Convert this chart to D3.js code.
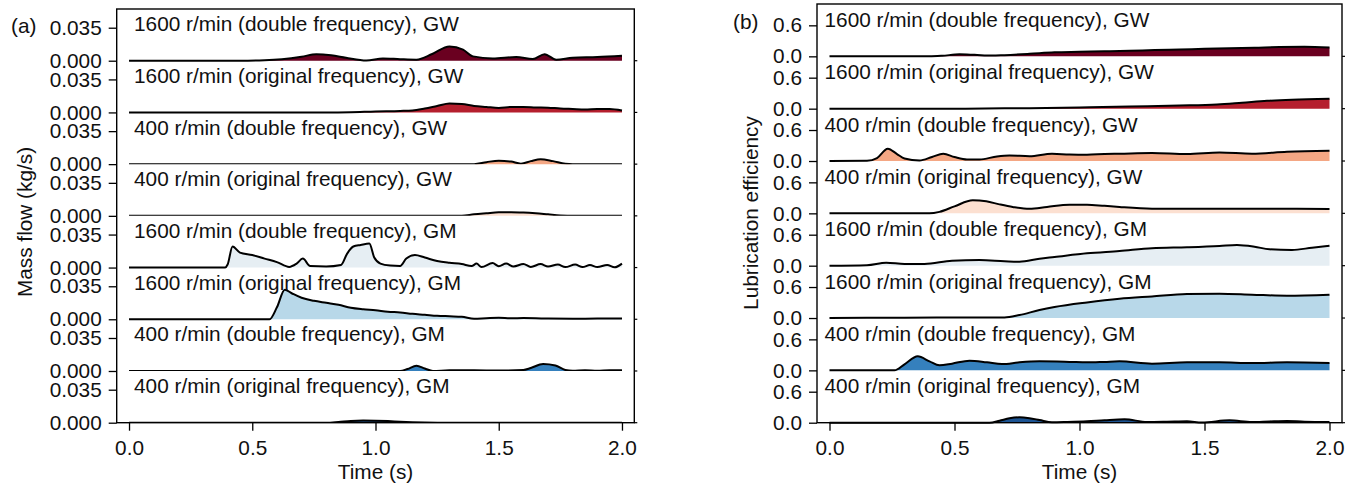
<!DOCTYPE html>
<html>
<head>
<meta charset="utf-8">
<script src="https://cdn.jsdelivr.net/npm/d3@7"></script>
<style>
  body { margin: 0; background: #fff; }
  svg text { font-family: "Liberation Sans", Arial, Helvetica, sans-serif; fill: #111; }
</style>
</head>
<body>
<svg id="chart" width="1346" height="483"></svg>
<script>
// ---- Row labels (top to bottom) and fill colours ----
const rowLabels = [
  "1600 r/min (double frequency), GW",
  "1600 r/min (original frequency), GW",
  "400 r/min (double frequency), GW",
  "400 r/min (original frequency), GW",
  "1600 r/min (double frequency), GM",
  "1600 r/min (original frequency), GM",
  "400 r/min (double frequency), GM",
  "400 r/min (original frequency), GM"
];
const rowColors = ["#6a0020", "#b51f2e", "#f4a784", "#fce0d1", "#e6eef3", "#b8d8e9", "#3580bd", "#1c5493"];

const timeTicks = [0, 0.5, 1.0, 1.5, 2.0];
const massFlowTicks = [0, 0.035];
const lubricationTicks = [0, 0.6];

// ---- (a) Mass flow, kg/s : [time (s), value] ----
const flow1600DoubleGW = [[0,0],[0.45,0],[0.55,0.0005],[0.62,0.0016],[0.7,0.0042],[0.76,0.0069],[0.82,0.0058],[0.88,0.0032],[0.963,0.0003],[1.03,0.0024],[1.1,0.0016],[1.166,0.0011],[1.23,0.0071],[1.3,0.0152],[1.355,0.0117],[1.395,0.0046],[1.476,0.0024],[1.571,0.0039],[1.638,0.0018],[1.686,0.0069],[1.733,0.0011],[1.8,0.0032],[1.9,0.0039],[2.0,0.0053]];
const flow1600OriginalGW = [[0,0],[0.8,0],[0.9,0.0003],[1.0,0.0011],[1.1,0.0016],[1.15,0.0021],[1.2,0.0042],[1.25,0.0069],[1.3,0.0095],[1.35,0.009],[1.4,0.0069],[1.45,0.0058],[1.5,0.0048],[1.55,0.0058],[1.6,0.0058],[1.65,0.0053],[1.7,0.005],[1.75,0.0042],[1.8,0.0037],[1.85,0.0032],[1.9,0.0037],[1.95,0.0037],[2.0,0.0021]];
const flow400DoubleGW = [[0,0],[1.4,0],[1.45,0.0021],[1.5,0.0037],[1.55,0.0027],[1.59,0.0005],[1.63,0.0032],[1.67,0.0053],[1.72,0.0032],[1.77,0.0005],[1.8,0],[2.0,0]];
const flow400OriginalGW = [[0,0],[1.35,0],[1.4,0.0016],[1.45,0.0027],[1.5,0.0037],[1.55,0.0039],[1.6,0.0035],[1.65,0.0027],[1.7,0.0016],[1.75,0.0005],[1.8,0],[2.0,0]];
const flow1600DoubleGM = [[0,0],[0.39,0],[0.4,0.0032],[0.42,0.0223],[0.45,0.0159],[0.5,0.0133],[0.55,0.0095],[0.6,0.0058],[0.65,0.0007],[0.68,0.0042],[0.705,0.0095],[0.735,0.0016],[0.8,0.0011],[0.86,0.0027],[0.885,0.0148],[0.91,0.0223],[0.94,0.0239],[0.975,0.0254],[0.995,0.0106],[1.02,0.0042],[1.06,0.0021],[1.1,0.0016],[1.125,0.0095],[1.16,0.0133],[1.2,0.0106],[1.25,0.0069],[1.3,0.005],[1.35,0.0037],[1.39,0.0016],[1.41,0.0042],[1.43,0.0005],[1.475,0.0048],[1.5,0.0014],[1.53,0.0042],[1.56,0.0011],[1.6,0.0037],[1.63,0.0007],[1.67,0.0037],[1.7,0.0011],[1.74,0.0032],[1.77,0.0005],[1.81,0.0032],[1.84,0.0005],[1.87,0.0027],[1.9,0.0005],[1.94,0.0027],[1.97,0.0003],[2.0,0.0042]];
const flow1600OriginalGM = [[0,0],[0.57,0],[0.6,0.0127],[0.632,0.0313],[0.66,0.0276],[0.7,0.0228],[0.75,0.0196],[0.8,0.0175],[0.85,0.0154],[0.9,0.0122],[0.95,0.0106],[1.0,0.0095],[1.05,0.008],[1.1,0.0072],[1.15,0.0058],[1.2,0.0048],[1.25,0.0037],[1.3,0.0032],[1.35,0.0027],[1.4,0.0005],[1.45,0.0011],[1.5,0.0016],[1.55,0.0011],[1.6,0.0013],[1.65,0.0011],[1.7,0.0007],[1.8,0.0005],[1.9,0.0007],[2.0,0.0007]];
const flow400DoubleGM = [[0,0],[1.1,0],[1.13,0.0021],[1.166,0.0056],[1.2,0.0027],[1.233,0],[1.3,0.0007],[1.4,0.0007],[1.5,0.0005],[1.6,0.0011],[1.63,0.0032],[1.68,0.0074],[1.73,0.0058],[1.77,0.0011],[1.8,0.0003],[1.85,0.0008],[1.9,0.0003],[1.95,0.0008],[2.0,0.0008]];
const flow400OriginalGM = [[0,0],[0.8,0],[0.85,0.0008],[0.9,0.0019],[0.95,0.0023],[1.0,0.0021],[1.05,0.0017],[1.1,0.0011],[1.2,0.0003],[1.3,0],[2.0,0]];

// ---- (b) Lubrication efficiency : [time (s), value] ----
const lub1600DoubleGW = [[0,0],[0.4,0],[0.45,0.010],[0.52,0.039],[0.58,0.029],[0.65,0.014],[0.7,0.023],[0.8,0.048],[0.9,0.077],[1.0,0.087],[1.1,0.097],[1.2,0.106],[1.3,0.122],[1.4,0.132],[1.5,0.145],[1.6,0.155],[1.7,0.166],[1.8,0.180],[1.9,0.184],[2.0,0.170]];
const lub1600OriginalGW = [[0,0],[0.5,0],[0.7,0.006],[0.8,0.010],[1.0,0.025],[1.2,0.043],[1.4,0.062],[1.55,0.083],[1.65,0.116],[1.75,0.151],[1.85,0.174],[2.0,0.194]];
const lub400DoubleGW = [[0,0],[0.15,0.006],[0.19,0.058],[0.233,0.238],[0.27,0.135],[0.3,0.048],[0.36,0.010],[0.41,0.077],[0.455,0.141],[0.5,0.077],[0.55,0.029],[0.6,0.029],[0.67,0.089],[0.72,0.108],[0.8,0.093],[0.89,0.141],[0.96,0.126],[1.03,0.122],[1.1,0.135],[1.16,0.141],[1.29,0.155],[1.43,0.135],[1.56,0.166],[1.69,0.141],[1.83,0.180],[2.0,0.199]];
const lub400OriginalGW = [[0,0],[0.4,0],[0.44,0.029],[0.5,0.135],[0.573,0.252],[0.627,0.232],[0.68,0.174],[0.733,0.124],[0.8,0.087],[0.87,0.124],[0.96,0.168],[1.03,0.168],[1.1,0.145],[1.16,0.124],[1.29,0.091],[1.4,0.087],[1.56,0.091],[1.7,0.087],[1.83,0.091],[2.0,0.085]];
const lub1600DoubleGM = [[0,0],[0.15,0.010],[0.227,0.058],[0.3,0.033],[0.38,0.033],[0.49,0.097],[0.6,0.110],[0.7,0.087],[0.76,0.077],[0.84,0.135],[0.9,0.168],[1.03,0.240],[1.16,0.284],[1.29,0.337],[1.43,0.356],[1.56,0.381],[1.63,0.401],[1.7,0.368],[1.76,0.317],[1.85,0.304],[1.93,0.348],[2.0,0.387]];
const lub1600OriginalGM = [[0,0],[0.3,0.006],[0.5,0.010],[0.7,0.010],[0.76,0.058],[0.84,0.155],[0.9,0.213],[1.03,0.302],[1.16,0.373],[1.29,0.418],[1.43,0.464],[1.56,0.470],[1.69,0.451],[1.83,0.432],[2.0,0.451]];
const lub400DoubleGM = [[0,0],[0.26,0],[0.3,0.116],[0.353,0.271],[0.4,0.174],[0.44,0.097],[0.49,0.130],[0.56,0.188],[0.63,0.155],[0.69,0.122],[0.76,0.155],[0.84,0.174],[0.96,0.164],[1.03,0.155],[1.1,0.164],[1.16,0.174],[1.29,0.130],[1.43,0.155],[1.56,0.155],[1.69,0.143],[1.83,0.155],[2.0,0.143]];
const lub400OriginalGM = [[0,0],[0.64,0],[0.68,0.039],[0.72,0.085],[0.76,0.104],[0.8,0.087],[0.84,0.052],[0.89,0.008],[0.95,0.014],[1.03,0.027],[1.1,0.048],[1.18,0.066],[1.27,0.014],[1.35,0.019],[1.43,0.027],[1.49,0.004],[1.6,0.046],[1.69,0.014],[1.76,0.025],[1.83,0.033],[1.9,0.019],[2.0,0.014]];

// ---- drawing ----
const svg = d3.select("#chart");
const FONT = 20.8;

function drawPanel(cfg) {
  const g = svg.append("g");
  const n = cfg.series.length;
  const rowH = (cfg.bottom - cfg.top) / n;
  const x = d3.scaleLinear().domain([-0.05, 2.05]).range([cfg.left, cfg.right]);

  cfg.series.forEach((data, i) => {
    const base = cfg.top + rowH * (i + 1);
    const y = d3.scaleLinear().domain([0, cfg.ticks[1]]).range([base, base - cfg.tickSpan]);

    const area = d3.area().x(d => x(d[0])).y0(y(0)).y1(d => y(d[1])).curve(d3.curveMonotoneX);
    const line = d3.line().x(d => x(d[0])).y(d => y(d[1])).curve(d3.curveMonotoneX);

    g.append("path").attr("d", area(data)).attr("fill", rowColors[i]);

    const ln = g.append("path").attr("d", line(data))
      .attr("fill", "none").attr("stroke", "#000").attr("stroke-width", 2)
      .attr("stroke-linejoin", "round");
    if (cfg.clipRows.includes(i)) {
      const id = `clip-${cfg.name}-${i}`;
      g.append("clipPath").attr("id", id).append("rect")
        .attr("x", cfg.left).attr("y", base - rowH).attr("width", cfg.right - cfg.left).attr("height", rowH);
      ln.attr("clip-path", `url(#${id})`);
    }

    // row y axis
    const ax = g.append("g").attr("transform", `translate(${cfg.left},0)`)
      .call(d3.axisLeft(y).tickValues(cfg.ticks).tickFormat(cfg.fmt).tickSize(8).tickPadding(7));
    ax.select(".domain").remove();
    ax.selectAll(".tick line").attr("stroke", "#000").attr("stroke-width", 1.3);
    ax.selectAll(".tick text").attr("font-size", FONT).style("font-family", null).attr("fill", "#111");

    // small outward mark on the right spine
    g.append("line").attr("x1", cfg.right).attr("x2", cfg.right + 3)
      .attr("y1", base).attr("y2", base).attr("stroke", "#000").attr("stroke-width", 1.2);

    // row label
    g.append("text").attr("x", cfg.labelX).attr("y", base - 29.5)
      .attr("font-size", FONT).text(rowLabels[i]);
  });

  // frame
  g.append("rect").attr("x", cfg.left).attr("y", cfg.top)
    .attr("width", cfg.right - cfg.left).attr("height", cfg.bottom - cfg.top)
    .attr("fill", "none").attr("stroke", "#000").attr("stroke-width", 1.4);

  // time axis
  const xa = g.append("g").attr("transform", `translate(0,${cfg.bottom})`)
    .call(d3.axisBottom(x).tickValues(timeTicks).tickFormat(d3.format(".1f")).tickSize(8).tickPadding(10));
  xa.select(".domain").remove();
  xa.selectAll(".tick line").attr("stroke", "#000").attr("stroke-width", 1.3);
  xa.selectAll(".tick text").attr("font-size", FONT).style("font-family", null).attr("fill", "#111");

  g.append("text").attr("x", (x(0) + x(2)) / 2).attr("y", 478.5)
    .attr("text-anchor", "middle").attr("font-size", FONT).text("Time (s)");

  g.append("text")
    .attr("transform", `translate(${cfg.ylabelX},${cfg.ylabelY}) rotate(-90)`)
    .attr("text-anchor", "middle").attr("font-size", FONT).text(cfg.ylabel);

  g.append("text").attr("x", cfg.tagX).attr("y", cfg.tagY)
    .attr("font-size", FONT).text(cfg.tag);
}

drawPanel({
  name: "a", tag: "(a)", tagX: 11, tagY: 32.5,
  left: 116.7, right: 634.3, top: 9, bottom: 422.7,
  ticks: massFlowTicks, tickSpan: 33, fmt: d3.format(".3f"),
  labelX: 134, ylabel: "Mass flow (kg/s)", ylabelX: 31.5, ylabelY: 222,
  clipRows: [2, 3, 6, 7],
  series: [flow1600DoubleGW, flow1600OriginalGW, flow400DoubleGW, flow400OriginalGW,
           flow1600DoubleGM, flow1600OriginalGM, flow400DoubleGM, flow400OriginalGM]
});

drawPanel({
  name: "b", tag: "(b)", tagX: 733, tagY: 29,
  left: 817, right: 1342, top: 4, bottom: 422.7,
  ticks: lubricationTicks, tickSpan: 31, fmt: d3.format(".1f"),
  labelX: 824.5, ylabel: "Lubrication efficiency", ylabelX: 758, ylabelY: 213,
  clipRows: [],
  series: [lub1600DoubleGW, lub1600OriginalGW, lub400DoubleGW, lub400OriginalGW,
           lub1600DoubleGM, lub1600OriginalGM, lub400DoubleGM, lub400OriginalGM]
});
</script>
</body>
</html>
